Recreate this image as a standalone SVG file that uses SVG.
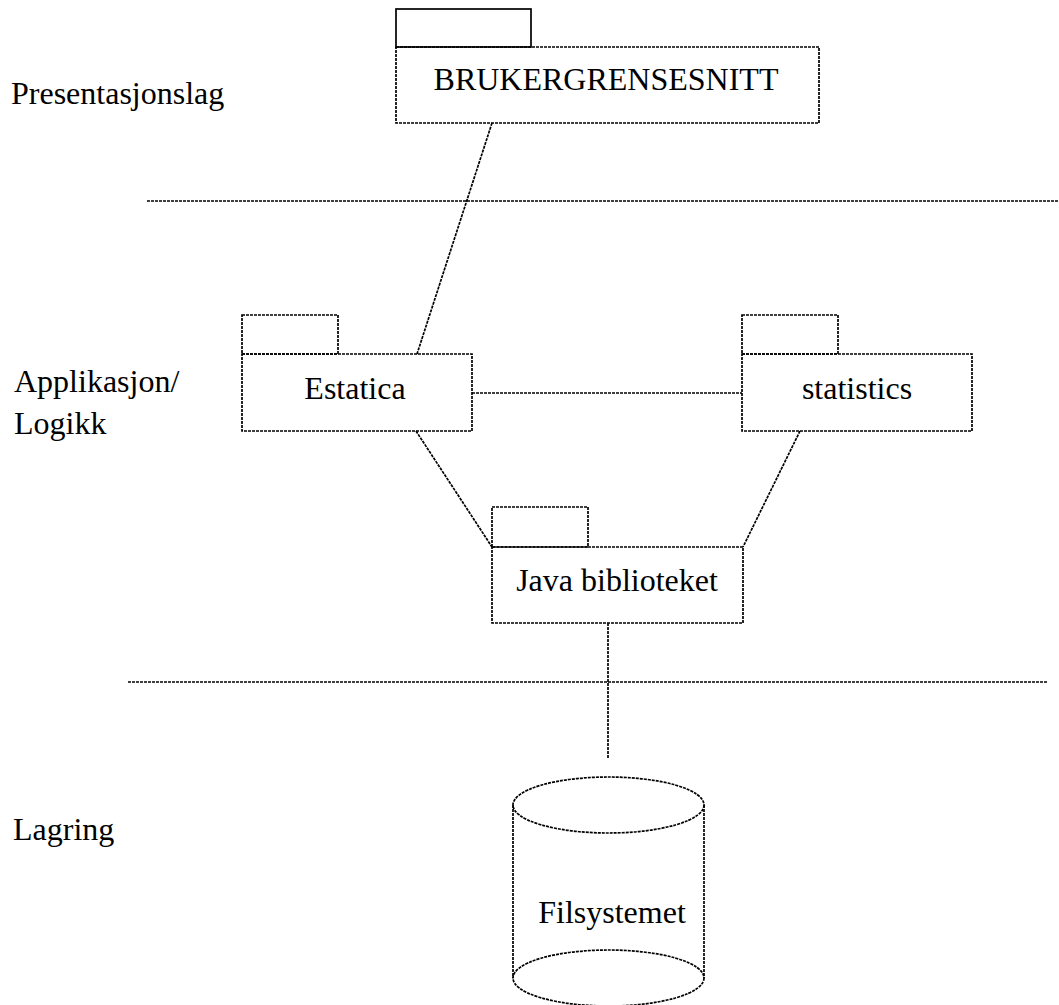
<svg xmlns="http://www.w3.org/2000/svg" width="1059" height="1005" viewBox="0 0 1059 1005">
<style>
.d{fill:none;stroke:#000;stroke-width:1.7;stroke-dasharray:3 1}
.s{fill:none;stroke:#000;stroke-width:1.7}
.t{font-family:'Liberation Serif','DejaVu Serif',serif;font-size:32px;fill:#000}
.c{text-anchor:middle}
</style>
<rect width="1059" height="1005" fill="#fff"/>
<g id="layers">
<line class="d" x1="147" y1="201" x2="1059" y2="201"/>
<line class="d" x1="128" y1="682" x2="1047" y2="682"/>
<text class="t" x="11" y="104">Presentasjonslag</text>
<text class="t" x="14" y="392">Applikasjon/</text>
<text class="t" x="14" y="434">Logikk</text>
<text class="t" x="13" y="840">Lagring</text>
</g>
<g id="connectors">
<line class="d" x1="492" y1="123" x2="417" y2="354"/>
<line class="d" x1="472" y1="393" x2="742" y2="393"/>
<line class="d" x1="416" y1="431" x2="492" y2="547"/>
<line class="d" x1="800" y1="431" x2="743" y2="547"/>
<line class="d" x1="608" y1="623" x2="608" y2="758"/>
</g>
<g id="brukergrensesnitt">
<rect class="s" x="396" y="9" width="135" height="38"/>
<rect class="d" x="396" y="47" width="423" height="76"/>
<text class="t c" x="606" y="90">BRUKERGRENSESNITT</text>
</g>
<g id="estatica">
<rect class="d" x="242" y="315" width="96" height="39"/>
<rect class="d" x="242" y="354" width="230" height="77"/>
<text class="t c" x="355" y="399">Estatica</text>
</g>
<g id="statistics">
<rect class="d" x="742" y="315" width="96" height="39"/>
<rect class="d" x="742" y="354" width="230" height="77"/>
<text class="t c" x="857" y="399">statistics</text>
</g>
<g id="java">
<rect class="d" x="492" y="507" width="96" height="40"/>
<rect class="d" x="492" y="547" width="251" height="76"/>
<text class="t c" x="617" y="591">Java biblioteket</text>
</g>
<g id="filsystemet">
<ellipse class="d" cx="608.5" cy="805" rx="95.5" ry="28"/>
<line class="d" x1="513" y1="805" x2="513" y2="978"/>
<line class="d" x1="704" y1="805" x2="704" y2="978"/>
<ellipse class="d" cx="608.5" cy="978" rx="95.5" ry="28"/>
<text class="t c" x="612" y="923">Filsystemet</text>
</g>
</svg>
